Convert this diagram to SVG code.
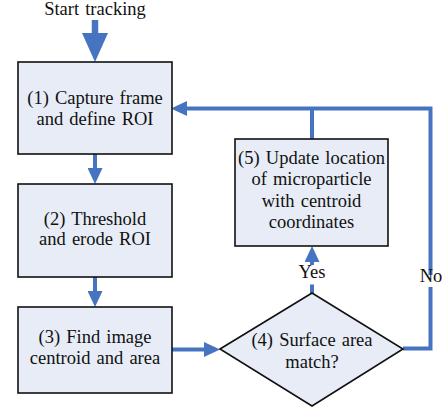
<svg xmlns="http://www.w3.org/2000/svg" width="442" height="409" viewBox="0 0 442 409">
  <style>
    .box { fill: #E7ECF6; stroke: #111111; stroke-width: 1.6; }
    .flow { fill: none; stroke: #4674C1; stroke-width: 4; }
    .lbl { font-family: 'Liberation Serif', 'Times New Roman', serif; font-size: 18.5px; fill: #111111; text-anchor: middle; word-spacing: 1.5px; }
  </style>
  <defs>
    <marker id="head" markerUnits="userSpaceOnUse" markerWidth="16" markerHeight="15" refX="0" refY="7.5" orient="auto">
      <path d="M0,0 L16,7.5 L0,15 Z" fill="#4674C1"/>
    </marker>
  </defs>

  <rect width="442" height="409" fill="#ffffff"/>

  <!-- connectors -->
  <g id="connectors">
    <!-- entry arrow -->
    <line x1="95" y1="20" x2="95" y2="34" stroke="#4674C1" stroke-width="6.5"/>
    <polygon points="82,33 108,33 95,62" fill="#4674C1"/>
    <!-- 1 to 2 -->
    <path class="flow" d="M95,154 V168" marker-end="url(#head)"/>
    <!-- 2 to 3 -->
    <path class="flow" d="M95,277 V291" marker-end="url(#head)"/>
    <!-- 3 to 4 -->
    <path class="flow" d="M172,349.5 H204" marker-end="url(#head)"/>
    <!-- 4 to 5 (Yes) -->
    <path class="flow" d="M312,293 V284.5"/>
    <path class="flow" d="M312,265 V262" marker-end="url(#head)"/>
    <!-- 5 back to 1 -->
    <path class="flow" d="M312,139 V108.5"/>
    <!-- 4 back to 1 (No) -->
    <path class="flow" d="M403,348.5 H430.5 V287"/>
    <path class="flow" d="M430.5,275 V108.5 H187" marker-end="url(#head)"/>
    <text class="lbl" x="312" y="278">Yes</text>
    <text class="lbl" x="431" y="282">No</text>
  </g>

  <text class="lbl" x="95" y="15">Start tracking</text>

  <g id="node1">
    <rect class="box" x="18" y="62" width="154" height="92"/>
    <text class="lbl" x="95" y="104">(1) Capture frame</text>
    <text class="lbl" x="95" y="124.5">and define ROI</text>
  </g>

  <g id="node2">
    <rect class="box" x="18" y="184" width="154" height="93"/>
    <text class="lbl" x="95" y="224.5">(2) Threshold</text>
    <text class="lbl" x="95" y="245">and erode ROI</text>
  </g>

  <g id="node3">
    <rect class="box" x="18" y="307" width="154" height="86"/>
    <text class="lbl" x="95" y="343">(3) Find image</text>
    <text class="lbl" x="95" y="363.5">centroid and area</text>
  </g>

  <g id="node4">
    <polygon class="box" points="220,349 312,293 403,349 312,406"/>
    <text class="lbl" x="312" y="346">(4) Surface area</text>
    <text class="lbl" x="312" y="367.5">match?</text>
  </g>

  <g id="node5">
    <rect class="box" x="235" y="139" width="153" height="107"/>
    <text class="lbl" x="311.5" y="163.5">(5) Update location</text>
    <text class="lbl" x="311.5" y="185">of microparticle</text>
    <text class="lbl" x="311.5" y="206.5">with centroid</text>
    <text class="lbl" x="311.5" y="228">coordinates</text>
  </g>
</svg>
